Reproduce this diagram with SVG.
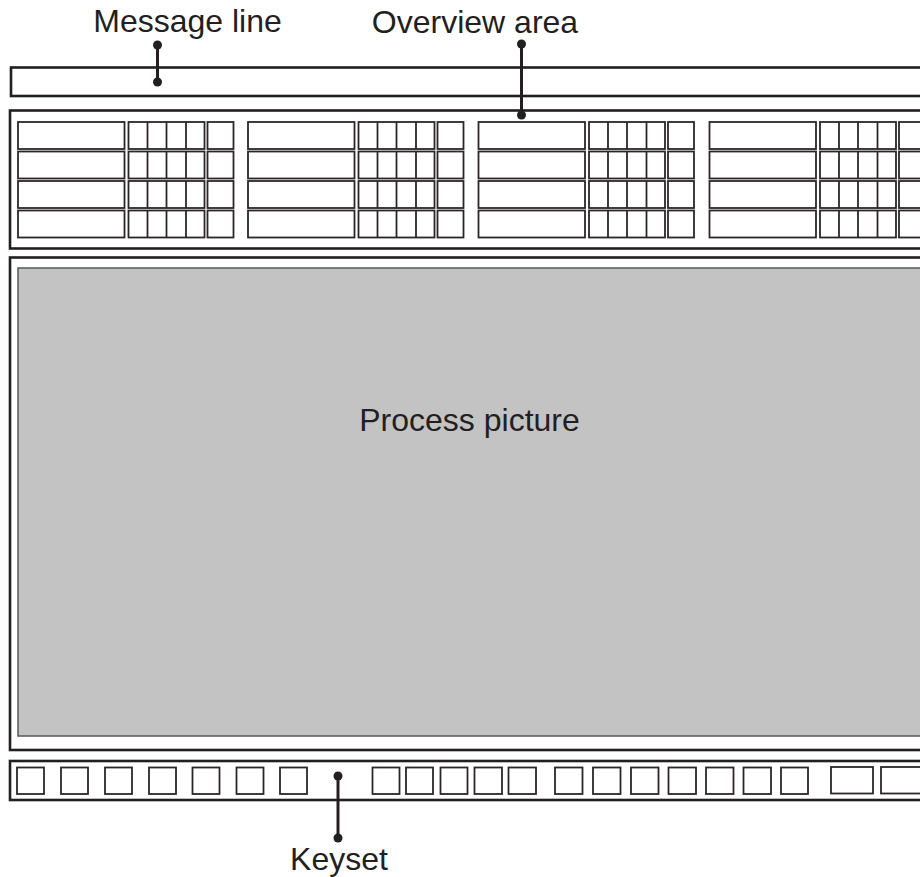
<svg xmlns="http://www.w3.org/2000/svg" xmlns:xlink="http://www.w3.org/1999/xlink" width="920" height="877" viewBox="0 0 920 877">
<style>
.frame{fill:#fff;stroke:#231f20;stroke-width:2.6}
.cell{fill:#fff;stroke:#2b2728;stroke-width:1.8}
.key{fill:#fff;stroke:#2b2728;stroke-width:1.8}
.pic{fill:#c3c3c3;stroke:#5a5758;stroke-width:1.5}
.lbl{font-family:"Liberation Sans",Arial,sans-serif;font-size:32px;fill:#231f20;text-anchor:middle}
.conn{stroke:#231f20;stroke-width:3;fill:none}
.dot{fill:#231f20}
</style>
<defs>
<g id="ovgroup">
<rect class="cell" x="0" y="0" width="106.5" height="27"/>
<rect class="cell" x="110.5" y="0" width="76" height="27"/>
<line class="cell" x1="129.5" y1="0" x2="129.5" y2="27"/>
<line class="cell" x1="148.5" y1="0" x2="148.5" y2="27"/>
<line class="cell" x1="168" y1="0" x2="168" y2="27"/>
<rect class="cell" x="189.5" y="0" width="26" height="27"/>
</g>
<g id="ovcol">
<use xlink:href="#ovgroup" href="#ovgroup" y="0"/>
<use xlink:href="#ovgroup" href="#ovgroup" y="29.5"/>
<use xlink:href="#ovgroup" href="#ovgroup" y="59"/>
<use xlink:href="#ovgroup" href="#ovgroup" y="88.5"/>
</g>
</defs>
<rect width="920" height="877" fill="#fff"/>

<g id="message-line">
<rect class="frame" x="11" y="67.5" width="930" height="28.5"/>
</g>

<g id="overview-area">
<rect class="frame" x="10" y="110.5" width="930" height="138"/>
<use xlink:href="#ovcol" href="#ovcol" transform="translate(18,122)"/>
<use xlink:href="#ovcol" href="#ovcol" transform="translate(248,122)"/>
<use xlink:href="#ovcol" href="#ovcol" transform="translate(478.5,122)"/>
<use xlink:href="#ovcol" href="#ovcol" transform="translate(709.5,122)"/>
</g>

<g id="process-picture">
<rect class="frame" x="10" y="257.5" width="930" height="492.5"/>
<rect class="pic" x="18" y="268" width="930" height="468"/>
<text class="lbl" x="469.5" y="431">Process picture</text>
</g>

<g id="keyset">
<rect class="frame" x="10" y="761" width="930" height="39"/>
<rect class="key" x="17" y="767.5" width="27" height="26.5"/>
<rect class="key" x="61" y="767.5" width="27" height="26.5"/>
<rect class="key" x="105" y="767.5" width="27" height="26.5"/>
<rect class="key" x="149" y="767.5" width="27" height="26.5"/>
<rect class="key" x="192.5" y="767.5" width="27" height="26.5"/>
<rect class="key" x="236.5" y="767.5" width="27" height="26.5"/>
<rect class="key" x="280" y="767.5" width="27" height="26.5"/>
<rect class="key" x="372.5" y="767.5" width="27" height="26.5"/>
<rect class="key" x="406" y="767.5" width="27" height="26.5"/>
<rect class="key" x="440.5" y="767.5" width="27" height="26.5"/>
<rect class="key" x="474.5" y="767.5" width="27.5" height="26.5"/>
<rect class="key" x="508.5" y="767.5" width="27.5" height="26.5"/>
<rect class="key" x="555" y="767.5" width="27.5" height="26.5"/>
<rect class="key" x="593" y="767.5" width="27.5" height="26.5"/>
<rect class="key" x="631" y="767.5" width="27.5" height="26.5"/>
<rect class="key" x="668.5" y="767.5" width="27.5" height="26.5"/>
<rect class="key" x="706" y="767.5" width="27.5" height="26.5"/>
<rect class="key" x="743.5" y="767.5" width="27.5" height="26.5"/>
<rect class="key" x="781" y="767.5" width="27" height="26.5"/>
<rect class="key" x="831" y="767" width="42" height="26.5"/>
<rect class="key" x="881" y="767" width="60" height="26.5"/>
</g>

<g id="labels">
<text class="lbl" x="187.5" y="32">Message line</text>
<text class="lbl" x="475" y="33">Overview area</text>
<text class="lbl" x="339" y="870">Keyset</text>
</g>

<g id="connectors">
<line class="conn" x1="157.5" y1="45" x2="157.5" y2="82"/>
<circle class="dot" cx="157.5" cy="45" r="4.5"/>
<circle class="dot" cx="157.5" cy="82" r="4.5"/>
<line class="conn" x1="521.5" y1="44" x2="521.5" y2="115"/>
<circle class="dot" cx="521.5" cy="44" r="4.5"/>
<circle class="dot" cx="521.5" cy="115" r="4.5"/>
<line class="conn" x1="338" y1="776" x2="338" y2="838"/>
<circle class="dot" cx="338" cy="776" r="4.5"/>
<circle class="dot" cx="338" cy="838" r="4.5"/>
</g>
</svg>
